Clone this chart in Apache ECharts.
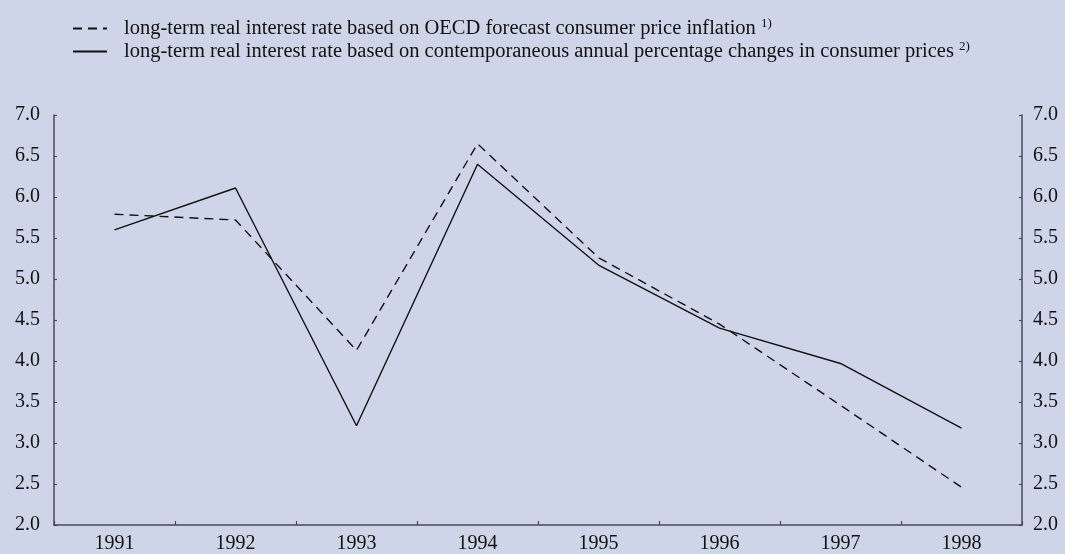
<!DOCTYPE html>
<html>
<head>
<meta charset="utf-8">
<script src="https://cdn.jsdelivr.net/npm/echarts@6/dist/echarts.min.js"></script>
<style>
html,body{margin:0;padding:0;background:#cfd5e8;}
#chart{width:1065px;height:554px;}
</style>
</head>
<body>
<div id="chart"></div>
<script>
var years = ['1991','1992','1993','1994','1995','1996','1997','1998'];
var forecastBased = [5.79, 5.72, 4.13, 6.65, 5.26, 4.45, 3.46, 2.46];
var contemporaneous = [5.60, 6.11, 3.21, 6.40, 5.17, 4.40, 3.97, 3.18];
var seriesNames = [
  'long-term real interest rate based on OECD forecast consumer price inflation',
  'long-term real interest rate based on contemporaneous annual percentage changes in consumer prices'
];
var footnotes = ['1)', '2)'];

var font = 'Liberation Serif';
var axisColor = '#4a4a55';
var chart = echarts.init(document.getElementById('chart'), null, {renderer:'canvas'});
function yAxis(pos, margin){
  return {
    type:'value', position:pos, min:2, max:7, interval:0.5,
    axisLine:{show:true, lineStyle:{color:axisColor, width:1.5}},
    axisTick:{show:true, inside:true, length:3, lineStyle:{color:axisColor, width:1.2}},
    splitLine:{show:false},
    axisLabel:{color:'#111', fontFamily:font, fontSize:20, margin:margin,
      formatter:function(v){return v.toFixed(1);}}
  };
}
chart.setOption({
  backgroundColor:'#cfd5e8',
  animation:false,
  textStyle:{fontFamily:font},
  legend:{
    orient:'vertical', left:67, top:12, itemGap:1, itemWidth:34, itemHeight:14,
    data:seriesNames,
    itemStyle:{opacity:0},
    formatter:function(name){
      var i = seriesNames.indexOf(name);
      return '{t|' + name + '} {sup|' + footnotes[i] + '}';
    },
    textStyle:{color:'#111', fontFamily:font, fontSize:20.5,
      rich:{
        t:{fontSize:20.5, fontFamily:font, color:'#111', padding:[0,0,0,12]},
        sup:{fontSize:13, fontFamily:font, color:'#111', padding:[0,0,10,0]}
      }}
  },
  grid:{left:54, right:43, top:115, bottom:29},
  xAxis:{
    type:'category', data:years, boundaryGap:true,
    axisLine:{lineStyle:{color:axisColor, width:1.5}},
    axisTick:{show:true, inside:true, length:4, lineStyle:{color:axisColor, width:1.2}},
    axisLabel:{color:'#111', fontFamily:font, fontSize:20, margin:9}
  },
  yAxis:[yAxis('left', 14), yAxis('right', 11)],
  series:[
    {name:seriesNames[0], type:'line', data:forecastBased, symbol:'none',
      lineStyle:{color:'#111', width:1.4, type:[9,6]}, itemStyle:{color:'#111'}},
    {name:seriesNames[1], type:'line', data:contemporaneous, symbol:'none',
      lineStyle:{color:'#111', width:1.4, type:'solid'}, itemStyle:{color:'#111'}}
  ]
});
</script>
</body>
</html>
